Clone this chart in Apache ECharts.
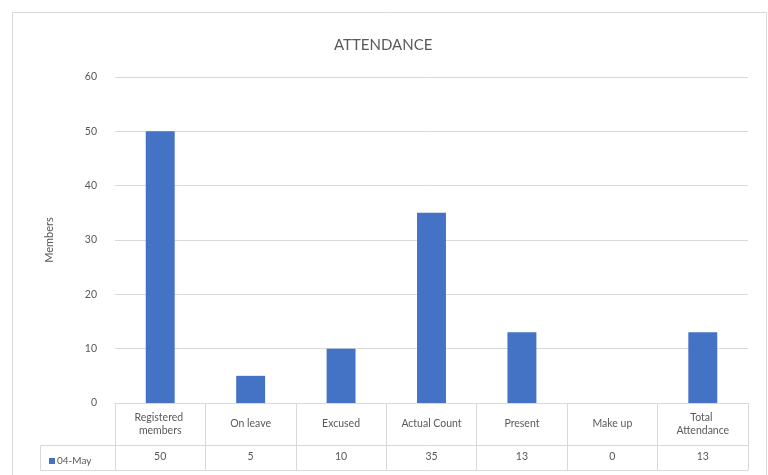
<!DOCTYPE html>
<html>
<head>
<meta charset="utf-8">
<script src="https://cdn.jsdelivr.net/npm/echarts@6/dist/echarts.min.js"></script>
<style>
  html, body { margin: 0; padding: 0; background: #fff; }
  #main { width: 768px; height: 475px; }
</style>
</head>
<body>
<div id="main"></div>
<script>
// chart data
var categories = ['Registered members', 'On leave', 'Excused', 'Actual Count', 'Present', 'Make up', 'Total Attendance'];
var counts = [50, 5, 10, 35, 13, 0, 13];
var seriesName = '04-May';
var yTicks = [0, 10, 20, 30, 40, 50, 60];

var textColor = '#595959';
var lineColor = '#d9d9d9';
var font = 'Lato, "Open Sans", sans-serif';

var myChart = echarts.init(document.getElementById('main'));

var option = {
  animation: false,
  textStyle: { fontFamily: font },
  title: {
    text: 'ATTENDANCE',
    left: 329,
    top: 33,
    textStyle: { color: textColor, fontSize: 15, fontWeight: 'normal', fontFamily: font }
  },
  legend: {
    data: [seriesName],
    left: 44,
    top: 451,
    itemWidth: 6,
    itemHeight: 6,
    itemGap: 2,
    icon: 'rect',
    textStyle: { color: textColor, fontSize: 10, padding: [0, 0, 0, -3] }
  },
  grid: { left: 115, right: 20, top: 77, bottom: 72 },
  xAxis: [
    {
      type: 'category',
      data: categories,
      position: 'bottom',
      axisLine: { show: true, lineStyle: { color: lineColor } },
      axisTick: { show: true, length: 67, lineStyle: { color: lineColor } },
      axisLabel: {
        color: textColor, fontSize: 10.5, interval: 0, margin: 21,
        verticalAlign: 'middle', width: 78, overflow: 'break', lineHeight: 13
      }
    },
    {
      type: 'category',
      data: categories,
      position: 'bottom',
      offset: 42,
      axisLine: { show: true, lineStyle: { color: lineColor } },
      axisTick: { show: false },
      axisLabel: {
        color: textColor, fontSize: 10.5, interval: 0, margin: 12,
        verticalAlign: 'middle',
        formatter: function (v, i) { return String(counts[i]); }
      }
    },
    {
      type: 'category',
      data: categories,
      position: 'bottom',
      offset: 67,
      axisLine: { show: true, lineStyle: { color: lineColor } },
      axisTick: { show: false },
      axisLabel: { show: false }
    }
  ],
  yAxis: {
    type: 'value',
    min: yTicks[0],
    max: yTicks[yTicks.length - 1],
    interval: 10,
    name: 'Members',
    nameLocation: 'middle',
    nameGap: 60,
    nameTextStyle: { color: textColor, fontSize: 11 },
    axisLine: { show: false },
    axisTick: { show: false },
    axisLabel: { color: textColor, fontSize: 10.5, margin: 18 },
    splitLine: { lineStyle: { color: lineColor } }
  },
  series: [
    {
      name: seriesName,
      type: 'bar',
      data: counts,
      barWidth: '32%',
      itemStyle: { color: '#4472C4' }
    }
  ],
  graphic: [
    {
      type: 'polyline',
      silent: true,
      shape: { points: [[115, 445.5], [40.5, 445.5], [40.5, 470.5], [115, 470.5]] },
      style: { stroke: lineColor, fill: null, lineWidth: 1 }
    },
    {
      type: 'rect',
      silent: true,
      shape: { x: 12.5, y: 12.5, width: 754, height: 470 },
      style: { stroke: lineColor, fill: null, lineWidth: 1 }
    }
  ]
};

myChart.setOption(option);
</script>
</body>
</html>
